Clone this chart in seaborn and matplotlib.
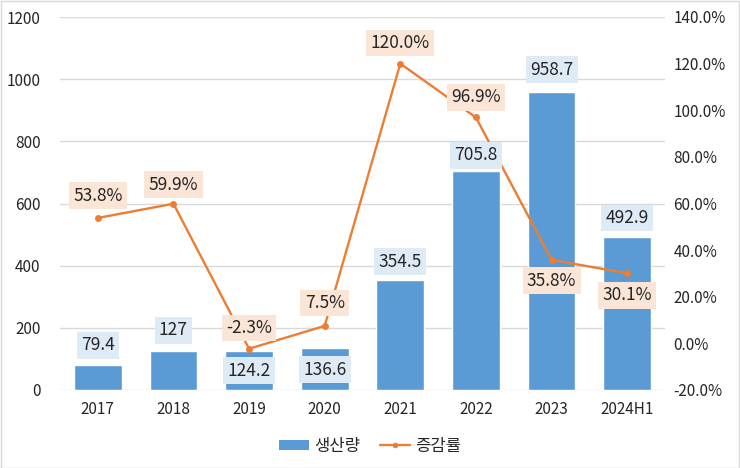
import numpy as np
import matplotlib
matplotlib.use('Agg')
import matplotlib.pyplot as plt
import seaborn as sns
from matplotlib.patches import Rectangle
from matplotlib.lines import Line2D
from matplotlib.ticker import FuncFormatter

sns.set_style('white')
plt.rcParams['font.family'] = ['Noto Sans CJK KR', 'DejaVu Sans']

# data
years = ['2017', '2018', '2019', '2020', '2021', '2022', '2023', '2024H1']
production = [79.4, 127, 124.2, 136.6, 354.5, 705.8, 958.7, 492.9]
production_labels = ['79.4', '127', '124.2', '136.6', '354.5', '705.8', '958.7', '492.9']
growth = [53.8, 59.9, -2.3, 7.5, 120.0, 96.9, 35.8, 30.1]
bar_name = '생산량'
line_name = '증감률'

blue = '#5B9BD5'
orange = '#ED7D31'

fig = plt.figure(figsize=(7.4, 4.68), dpi=100)
fig.patches.append(Rectangle((0.001, 0.001), 0.997, 0.997, transform=fig.transFigure,
                             fill=False, edgecolor='#D9D9D9', linewidth=1))
ax = fig.add_axes([60 / 740, 78 / 468, 605 / 740, 373 / 468])

sns.barplot(x=years, y=production, color=blue, width=0.63, ax=ax, saturation=1, zorder=2)
ax.set_ylim(0, 1200)
ax.set_yticks(range(0, 1201, 200))
ax.grid(axis='y', color='#D9D9D9', linewidth=1, zorder=0)
ax.set_axisbelow(True)
for s in ax.spines.values():
    s.set_visible(False)
ax.tick_params(axis='both', length=0, labelsize=11, colors='#262626', pad=8)
ax.tick_params(axis='y', pad=14)

ax2 = ax.twinx()
sns.lineplot(x=np.arange(len(years)), y=growth, ax=ax2, color=orange, marker='o',
             markersize=5, markeredgewidth=0, linewidth=1.7, zorder=4)
ax2.set_ylim(-20, 140)
ax2.set_yticks(range(-20, 141, 20))
ax2.yaxis.set_major_formatter(FuncFormatter(lambda v, p: f'{v:.1f}%'))
for s in ax2.spines.values():
    s.set_visible(False)
ax2.tick_params(axis='y', length=0, labelsize=11, colors='#262626', pad=6)
ax.set_xlim(-0.5, len(years) - 0.5)

# bar labels (offset in points), drawn on ax2 so they sit above the line
bar_off = [14.5, 14.5, -14, -16, 13, 11, 16, 13.5]
for i, (v, t) in enumerate(zip(production, production_labels)):
    ax2.annotate(t, (i, v), xycoords=ax.transData, xytext=(0, bar_off[i]),
                 textcoords='offset points', ha='center', va='center', fontsize=12.5,
                 color='#262626', zorder=6,
                 bbox=dict(boxstyle='square,pad=0.25', fc='#DEEBF7', ec='none'))

# line labels
line_off = [16, 13.7, 15, 16.5, 14.8, 14.4, -15, -16]
for i, v in enumerate(growth):
    ax2.annotate(f'{v:.1f}%', (i, v), xytext=(0, line_off[i]), textcoords='offset points',
                 ha='center', va='center', fontsize=12.5, color='#262626', zorder=6,
                 bbox=dict(boxstyle='square,pad=0.25', fc='#FBE5D6', ec='none'))

handles = [Rectangle((0, 0), 1, 1, fc=blue, ec='none'),
           Line2D([0], [0], color=orange, marker='o', markersize=4, markeredgewidth=0,
                  linewidth=1.7)]
fig.legend(handles, [bar_name, line_name], loc='center', bbox_to_anchor=(0.5, 22 / 468),
           ncol=2, frameon=False, fontsize=12, handlelength=1.8, handleheight=0.55,
           columnspacing=1.2, handletextpad=0.3, labelcolor='#262626')

fig.savefig('out.png', dpi=100)
